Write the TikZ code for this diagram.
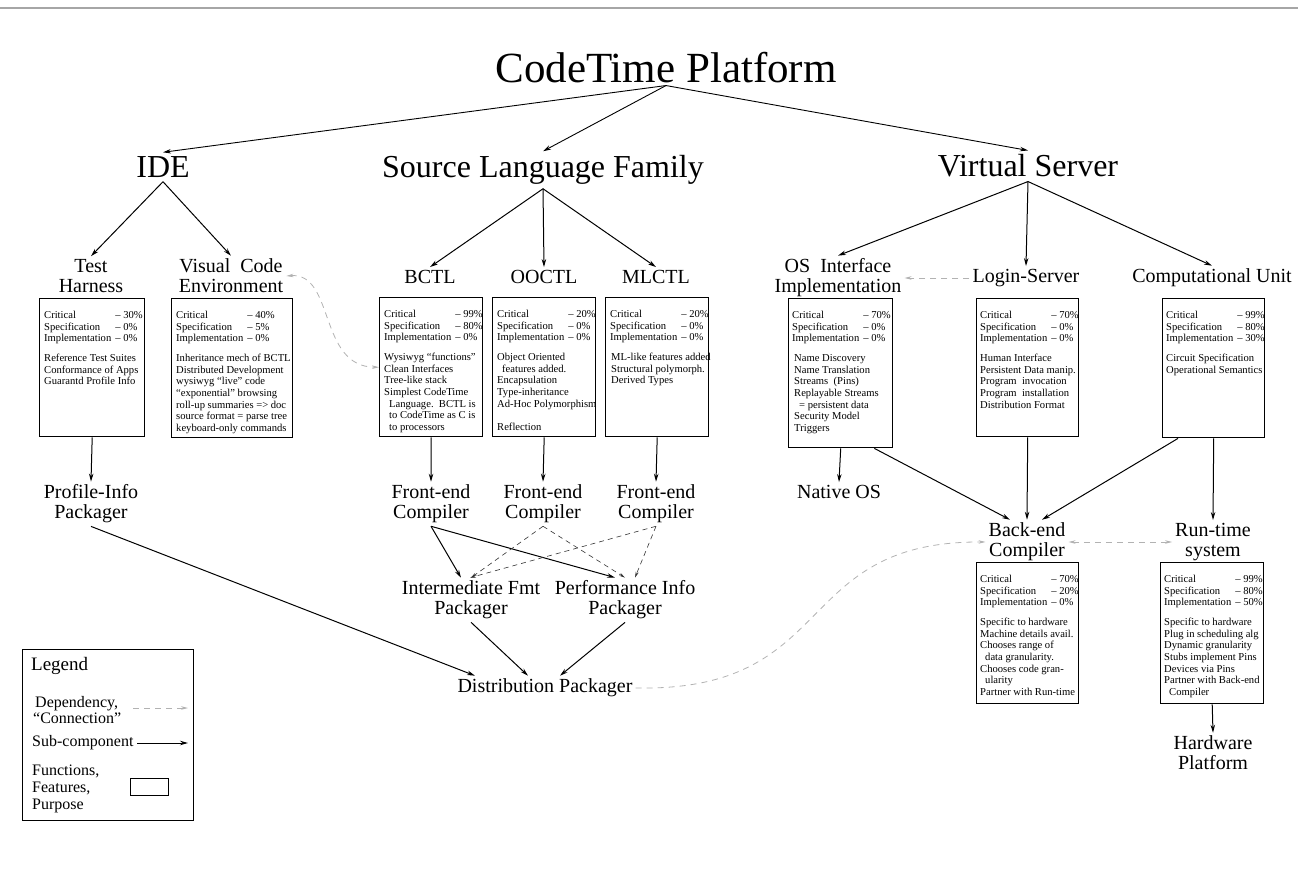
\documentclass[tikz,border=0pt]{standalone}
\usepackage{fontspec}
\setmainfont{Liberation Serif}
\usetikzlibrary{arrows.meta}
\newcommand\critstats[3]{\begin{tabular}[b]{@{}l@{\hspace{4pt}}l@{}}Critical & -- #1\%\\ Specification & -- #2\%\\ Implementation & -- #3\%\end{tabular}}
\tikzset{
  lvlone/.style={font=\fontsize{43}{46}\selectfont, inner sep=2pt},
  lvltwo/.style={font=\fontsize{32}{36}\selectfont, inner sep=4pt},
  lbl/.style={font=\fontsize{20}{20}\selectfont, align=center, inner sep=3pt},
  fbox/.style={draw, line width=1.4pt, anchor=north west, inner sep=0pt},
  btext/.style={anchor=north west, inner sep=0pt, align=left, font=\fontsize{10.6}{11.7}\selectfont},
  arr/.style={line width=1pt, -{Stealth[length=8pt,width=4.5pt]}},
  thinarr/.style={line width=0.9pt, -{Stealth[length=8pt,width=4.5pt]}},
  dep/.style={draw=gray!60, line width=0.8pt, dash pattern=on 6pt off 5pt, -{Stealth[length=7pt,width=3.5pt]}},
  depboth/.style={draw=gray!60, line width=0.8pt, dash pattern=on 6pt off 5pt, {Stealth[length=7pt,width=3.5pt]}-{Stealth[length=7pt,width=3.5pt]}},
  darkdash/.style={draw=black!80, line width=0.6pt, dash pattern=on 5pt off 4pt, -{Stealth[length=6pt,width=3pt]}},
  legtxt/.style={font=\fontsize{16}{15.5}\selectfont, align=left, inner sep=0pt},
}
\begin{document}
\begin{tikzpicture}[x=1pt,y=-1pt]
\useasboundingbox (0,0) rectangle (1298,890);
\draw[gray!70, line width=1.2pt] (0,8) -- (1298,8);

% top levels
\node[lvlone] (title) at (666,68) {CodeTime Platform};
\node[lvltwo] (ide) at (163,167) {IDE};
\node[lvltwo] (slf) at (543,170) {Source Language Family};
\node[lvltwo] (vs) at (1028,166) {Virtual Server};
\draw[thinarr] (title.south) -- (ide.north);
\draw[thinarr] (title.south) -- (slf.north);
\draw[thinarr] (title.south) -- (vs.north);

% level three labels
\node[lbl] (th) at (91,276) {Test\\Harness};
\node[lbl] (vce) at (231,276) {Visual\ \ Code\\Environment};
\node[lbl] (bctl) at (430,277) {BCTL};
\node[lbl] (ooctl) at (544,277) {OOCTL};
\node[lbl] (mlctl) at (656,277) {MLCTL};
\node[lbl] (os) at (838,278) {OS\ \ Interface\\Implementation};
\node[lbl] (login) at (1026,278) {Login-Server};
\node[lbl] (cu) at (1212,278) {Computational Unit};

\draw[arr] (ide.south) -- (th.north);
\draw[arr] (ide.south) -- (vce.north);
\draw[arr] (slf.south) -- (bctl.north);
\draw[arr] (slf.south) -- (ooctl.north);
\draw[arr] (slf.south) -- (mlctl.north);
\draw[arr] (vs.south) -- (os.north);
\draw[arr] (vs.south) -- (login.north);
\draw[arr] (vs.south) -- (cu.north);

% boxes
\node[fbox, minimum width=105pt, minimum height=138pt] (thbox) at (39,298) {};
\node[btext] (thtxt) at (44,310) {\critstats{30}{0}{0}\\[8pt]Reference Test Suites\\Conformance of Apps\\Guarantd Profile Info};

\node[fbox, minimum width=121pt, minimum height=139pt] (vcebox) at (171,298) {};
\node[btext] (vcetxt) at (176,310) {\critstats{40}{5}{0}\\[8pt]Inheritance mech of BCTL\\Distributed Development\\wysiwyg “live” code\\“exponential” browsing\\roll-up summaries => doc\\source format = parse tree\\keyboard-only commands};

\node[fbox, minimum width=103pt, minimum height=139pt] (bctlbox) at (379,297) {};
\node[btext] (bctltxt) at (384,309) {\critstats{99}{80}{0}\\[8pt]Wysiwyg “functions”\\Clean Interfaces\\Tree-like stack\\Simplest CodeTime\\\hspace*{5pt}Language.\ \ BCTL is\\\hspace*{5pt}to CodeTime as C is\\\hspace*{5pt}to processors};

\node[fbox, minimum width=103pt, minimum height=139pt] (ooctlbox) at (492,297) {};
\node[btext] (ooctltxt) at (497,309) {\critstats{20}{0}{0}\\[8pt]Object Oriented\\\hspace*{5pt}features added.\\Encapsulation\\Type-inheritance\\Ad-Hoc Polymorphism\\[11.7pt]Reflection};

\node[fbox, minimum width=103pt, minimum height=139pt] (mlctlbox) at (605,297) {};
\node[btext] (mlctltxt) at (610,309) {\critstats{20}{0}{0}\\[8pt]\hspace*{1pt}ML-like features added\\\hspace*{1pt}Structural polymorph.\\\hspace*{1pt}Derived Types};

\node[fbox, minimum width=104pt, minimum height=149pt] (osbox) at (788,298) {};
\node[btext] (ostxt) at (792,310) {\critstats{70}{0}{0}\\[8pt]\hspace*{2pt}Name Discovery\\\hspace*{2pt}Name Translation\\\hspace*{2pt}Streams\ \ (Pins)\\\hspace*{2pt}Replayable Streams\\\hspace*{7pt}= persistent data\\\hspace*{2pt}Security Model\\\hspace*{2pt}Triggers};

\node[fbox, minimum width=102pt, minimum height=138pt] (loginbox) at (976,298) {};
\node[btext] (logintxt) at (980,310) {\critstats{70}{0}{0}\\[8pt]Human Interface\\Persistent Data manip.\\Program\ \ invocation\\Program\ \ installation\\Distribution Format};

\node[fbox, minimum width=102pt, minimum height=139pt] (cubox) at (1162,298) {};
\node[btext] (cutxt) at (1166,310) {\critstats{99}{80}{30}\\[8pt]Circuit Specification\\Operational Semantics};

% lower level labels
\node[lbl] (profile) at (91,504) {Profile-Info\\Packager};
\node[lbl] (native) at (839,492) {Native OS};
\node[lbl] (fe1) at (431,504) {Front-end\\Compiler};
\node[lbl] (fe2) at (543,504) {Front-end\\Compiler};
\node[lbl] (fe3) at (656,504) {Front-end\\Compiler};
\node[lbl] (ifp) at (471,600) {Intermediate Fmt\\Packager};
\node[lbl] (pip) at (625,600) {Performance Info\\Packager};
\node[lbl] (dp) at (545,688) {Distribution Packager};
\node[lbl] (be) at (1027,542) {Back-end\\Compiler};
\node[lbl] (rt) at (1213,542) {Run-time\\system};
\node[lbl] (hw) at (1213,753) {Hardware\\Platform};

\node[fbox, minimum width=102pt, minimum height=141pt] (bebox) at (976,562) {};
\node[btext] (betxt) at (980,574) {\critstats{70}{20}{0}\\[8pt]Specific to hardware\\Machine details avail.\\Chooses range of\\\hspace*{5pt}data granularity.\\Chooses code gran-\\\hspace*{5pt}ularity\\Partner with Run-time};

\node[fbox, minimum width=103pt, minimum height=141pt] (rtbox) at (1160,562) {};
\node[btext] (rttxt) at (1164,574) {\critstats{99}{80}{50}\\[8pt]Specific to hardware\\Plug in scheduling alg\\Dynamic granularity\\Stubs implement Pins\\Devices via Pins\\Partner with Back-end\\\hspace*{5pt}Compiler};

% sub-component arrows
\draw[arr] (thbox.south) -- (profile.north);
\draw[arr] (bctlbox.south) -- (fe1.north);
\draw[arr] (ooctlbox.south) -- (fe2.north);
\draw[arr] (mlctlbox.south) -- (fe3.north);
\draw[arr] (fe1.south) -- ([xshift=-10pt]ifp.north);
\draw[arr] (fe1.south) -- ([xshift=-10pt]pip.north);
\draw[darkdash] (fe2.south) -- (ifp.north);
\draw[darkdash] (fe2.south) -- (pip.north);
\draw[darkdash] (fe3.south) -- ([xshift=-1pt]ifp.north);
\draw[darkdash] (fe3.south) -- ([xshift=10pt]pip.north);
\draw[arr] (ifp.south) -- ([xshift=-17pt]dp.north);
\draw[arr] (pip.south) -- ([xshift=15pt]dp.north);
\draw[arr] (profile.south) -- ([xshift=-70pt]dp.north);

\draw[arr] (osbox.south) -- (native.north);
\draw[arr] ([xshift=-19pt]osbox.south east) -- ([xshift=-17pt]be.north);
\draw[arr] (loginbox.south) -- (be.north);
\draw[arr] ([xshift=16pt]cubox.south west) -- ([xshift=15pt]be.north);
\draw[arr] (cubox.south) -- (rt.north);
\draw[arr] (rtbox.south) -- (hw.north);

% dependencies
\draw[dep] (login.west) -- (os.east);
\draw[depboth] (vce.east) .. controls (335,272) and (318,367) .. (bctlbox.west);
\draw[dep] (dp.east) .. controls (840,692) and (790,541) .. (be.west);
\draw[depboth] (be.east) -- (rt.west);

% legend
\node[draw, line width=1pt, anchor=north west, inner sep=0pt, minimum width=171pt, minimum height=171pt] (legbox) at (22,649) {};
\node[anchor=west, inner sep=0pt, font=\fontsize{19}{20}\selectfont] (legt) at (31,666) {Legend};
\node[legtxt, anchor=west] (legdep) at (33,710) {\hspace*{2pt}Dependency,\\“Connection”};
\coordinate (d1) at (133,708);
\coordinate (d2) at (188,708);
\draw[dep] (d1) -- (d2);
\node[legtxt, anchor=west] (legsub) at (32,743) {Sub-component};
\coordinate (s1) at (137,743);
\coordinate (s2) at (188,743);
\draw[arr] (s1) -- (s2);
\node[legtxt, anchor=west, font=\fontsize{16}{17}\selectfont] (legfun) at (32,789) {Functions,\\Features,\\Purpose};
\node[draw, line width=1pt, anchor=north west, inner sep=0pt, minimum width=38pt, minimum height=17pt] (legrect) at (130,778) {};
\end{tikzpicture}
\end{document}
